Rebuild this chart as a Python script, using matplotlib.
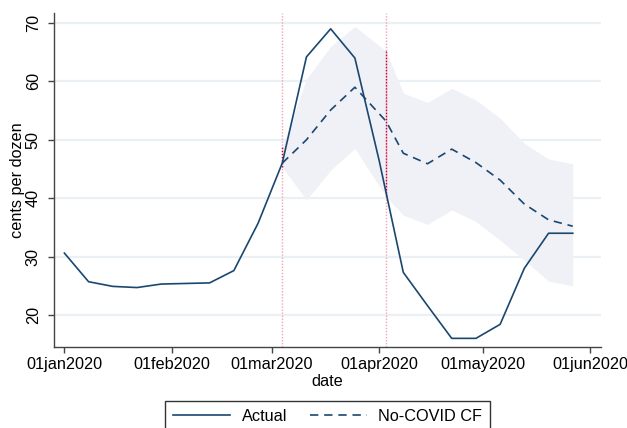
import matplotlib
matplotlib.use("Agg")
import matplotlib.pyplot as plt
import matplotlib.dates as mdates
import numpy as np
import pandas as pd

# ---- data ----
actual_dates = ["2020-01-01", "2020-01-08", "2020-01-15", "2020-01-22", "2020-01-29",
                "2020-02-05", "2020-02-12", "2020-02-19", "2020-02-26", "2020-03-04",
                "2020-03-11", "2020-03-18", "2020-03-25", "2020-04-01", "2020-04-08",
                "2020-04-15", "2020-04-22", "2020-04-29", "2020-05-06", "2020-05-13",
                "2020-05-20", "2020-05-27"]
actual_vals = [30.6, 25.7, 24.9, 24.7, 25.3, 25.4, 25.5, 27.6, 35.7, 46.0,
               64.2, 69.0, 64.0, 46.5, 27.3, 21.6, 16.0, 16.0, 18.4, 28.0,
               34.0, 34.0]

cf_dates = ["2020-03-04", "2020-03-11", "2020-03-18", "2020-03-25", "2020-04-03",
            "2020-04-08", "2020-04-15", "2020-04-22", "2020-04-29", "2020-05-06",
            "2020-05-13", "2020-05-20", "2020-05-27"]
cf_vals = [46.0, 50.0, 55.1, 59.0, 53.2, 47.7, 45.9, 48.4, 46.1, 43.1, 39.0, 36.3, 35.2]
cf_upper = [48.8, 60.4, 66.0, 69.4, 65.2, 58.0, 56.4, 58.8, 56.8, 53.7, 49.4, 46.7, 45.9]
cf_lower = [45.3, 39.7, 44.8, 48.5, 40.3, 37.1, 35.5, 38.0, 36.0, 32.8, 29.4, 25.8, 25.0]

event_dates = ["2020-03-04", "2020-04-03"]

xtick_dates = ["2020-01-01", "2020-02-01", "2020-03-01", "2020-04-01", "2020-05-01", "2020-06-01"]
xtick_labels = ["01jan2020", "01feb2020", "01mar2020", "01apr2020", "01may2020", "01jun2020"]
yticks = [20, 30, 40, 50, 60, 70]

series_labels = ["Actual", "No-COVID CF"]

# ---- style ----
plt.rcParams['font.family'] = ['Liberation Sans', 'DejaVu Sans']
FS = 11.7
navy = "#1a476f"
band_col = "#f0f0f7"
grid_col = "#eaf0f3"
spine_col = "#444444"

fig = plt.figure(figsize=(6.27, 4.28), dpi=100)
ax = fig.add_axes([54/627, 1 - 347.3/428, (601 - 54)/627, (347.3 - 13.3)/428])

ad = pd.to_datetime(actual_dates)
cd = pd.to_datetime(cf_dates)

ax.fill_between(cd, cf_lower, cf_upper, color=band_col, lw=0, zorder=1)

# event lines: light pink full height, deeper crimson inside the band
cd_num = mdates.date2num(cd)
for d in pd.to_datetime(event_dates):
    ax.axvline(d, color="#f4a3b8", lw=1.0, ls=(0, (1, 1.2)), zorder=2)
    dn = mdates.date2num(d)
    lo = np.interp(dn, cd_num, cf_lower)
    hi = np.interp(dn, cd_num, cf_upper)
    ax.plot([d, d], [lo, hi], color="#c8002e", lw=1.0, ls=(0, (1, 1.2)), zorder=2.5)

l1, = ax.plot(ad, actual_vals, color=navy, lw=1.2, zorder=4, label=series_labels[0])
l2, = ax.plot(cd, cf_vals, color=navy, lw=1.2, ls=(0, (5, 3.5)), zorder=3, label=series_labels[1])

ax.set_xlim(pd.Timestamp("2019-12-29"), pd.Timestamp("2020-06-04 04:00"))
ax.set_ylim(14.47, 71.66)

ax.set_yticks(yticks)
ax.set_yticklabels([str(v) for v in yticks], rotation=90, va="center", fontsize=FS)
ax.set_xticks(pd.to_datetime(xtick_dates))
ax.set_xticklabels(xtick_labels, fontsize=FS)

ax.grid(axis="y", color=grid_col, lw=1.6, zorder=0)
ax.set_axisbelow(True)
for s in ["top", "right"]:
    ax.spines[s].set_visible(False)
for s in ["left", "bottom"]:
    ax.spines[s].set_color(spine_col)
    ax.spines[s].set_linewidth(1.0)
ax.tick_params(axis="both", colors=spine_col, labelcolor="black", length=4.5, width=1.0)
ax.tick_params(axis="y", pad=5)
ax.tick_params(axis="x", pad=2.5)

ax.set_ylabel("cents per dozen", fontsize=FS, labelpad=0.5)
ax.set_xlabel("date", fontsize=FS, labelpad=1.5)

leg = fig.legend(handles=[l1, l2], loc="upper center", bbox_to_anchor=(327.8/627, 1 - 401/428),
                 ncol=2, frameon=True, fancybox=False, fontsize=FS, handlelength=3.5,
                 handletextpad=0.7, columnspacing=1.4, borderpad=0.5, borderaxespad=0)
leg.get_frame().set_edgecolor("black")
leg.get_frame().set_linewidth(1.0)

fig.savefig("out.png", dpi=100)
